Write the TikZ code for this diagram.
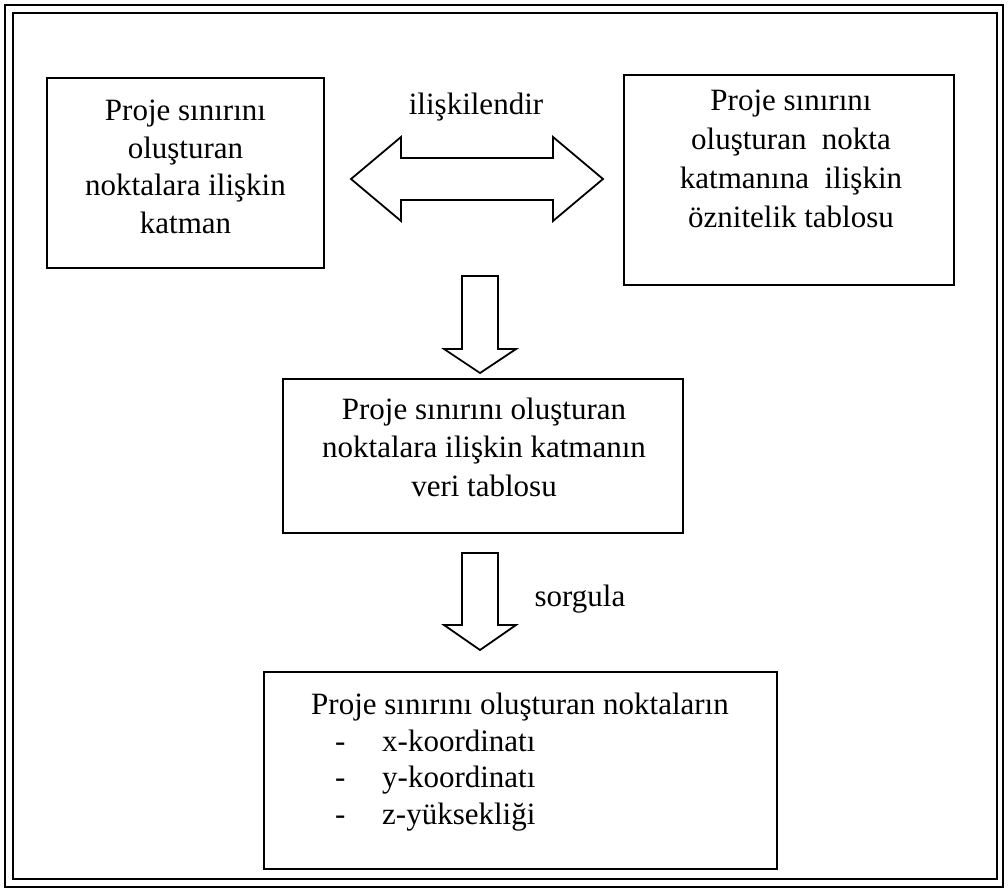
\documentclass[tikz,border=0pt]{standalone}
\usepackage{fontspec}
\setmainfont{Liberation Serif}
\tikzset{
  kutu/.style={draw, line width=2.4pt, inner sep=0pt},
  yazi/.style={align=center, inner sep=0pt, font=\fontsize{31pt}{37.5pt}\selectfont},
  blok/.style={draw, line width=1.8pt, line join=miter},
  cerceve/.style={draw, line width=2.6pt}
}
\begin{document}
\begin{tikzpicture}[x=1pt,y=-1pt]
      \useasboundingbox (0,0) rectangle (1008,891);
      \draw[cerceve] (5,5) rectangle (1003,887);
      \draw[cerceve] (13,13) rectangle (997,879);
      \draw
        (185.5,173) node[kutu, minimum width=277pt, minimum height=190pt] (katman){}
        (789,180) node[kutu, minimum width=330pt, minimum height=210pt] (oznitelik){}
        (483,456) node[kutu, minimum width=400pt, minimum height=154pt] (veri){}
        (520.5,770.5) node[kutu, minimum width=513pt, minimum height=197pt] (sonuc){};
      \draw
        (185.5,167) node[yazi] (katmanyazi){Proje sınırını\\oluşturan\\noktalara ilişkin\\katman}
        (791,159) node[yazi, font=\fontsize{31pt}{39pt}\selectfont] (oznitelikyazi){Proje sınırını\\oluşturan\ \ nokta\\katmanına\ \ ilişkin\\öznitelik tablosu}
        (484,447) node[yazi, font=\fontsize{31pt}{38.5pt}\selectfont] (veriyazi){Proje sınırını oluşturan\\noktalara ilişkin katmanın\\veri tablosu}
        (311,762) node[yazi, align=left, anchor=west, font=\fontsize{31pt}{36.5pt}\selectfont] (sonucyazi){Proje sınırını oluşturan noktaların\\
          \makebox[71pt][l]{\hspace*{24pt}-}x-koordinatı\\
          \makebox[71pt][l]{\hspace*{24pt}-}y-koordinatı\\
          \makebox[71pt][l]{\hspace*{24pt}-}z-yüksekliği}
        (476,107) node[yazi] (iliski){ilişkilendir}
        (580,599) node[yazi] (sorgu){sorgula};
      \coordinate (ciftok) at (351,179);
      \coordinate (asagi1) at (480,276);
      \coordinate (asagi2) at (480,553);
      \begin{scope}[blok]
        \draw (ciftok) -- ++(50,-42) -- ++(0,21) -- ++(152,0) -- ++(0,-21) -- ++(50,42)
          -- ++(-50,42) -- ++(0,-21) -- ++(-152,0) -- ++(0,21) -- cycle;
        \draw (asagi1) ++(-18,0) -- ++(0,73) -- ++(-18,0) -- ++(36,24) -- ++(36,-24)
          -- ++(-18,0) -- ++(0,-73) -- cycle;
        \draw (asagi2) ++(-18,0) -- ++(0,72) -- ++(-18,0) -- ++(36,25) -- ++(36,-25)
          -- ++(-18,0) -- ++(0,-72) -- cycle;
      \end{scope}
    \end{tikzpicture}
\end{document}
